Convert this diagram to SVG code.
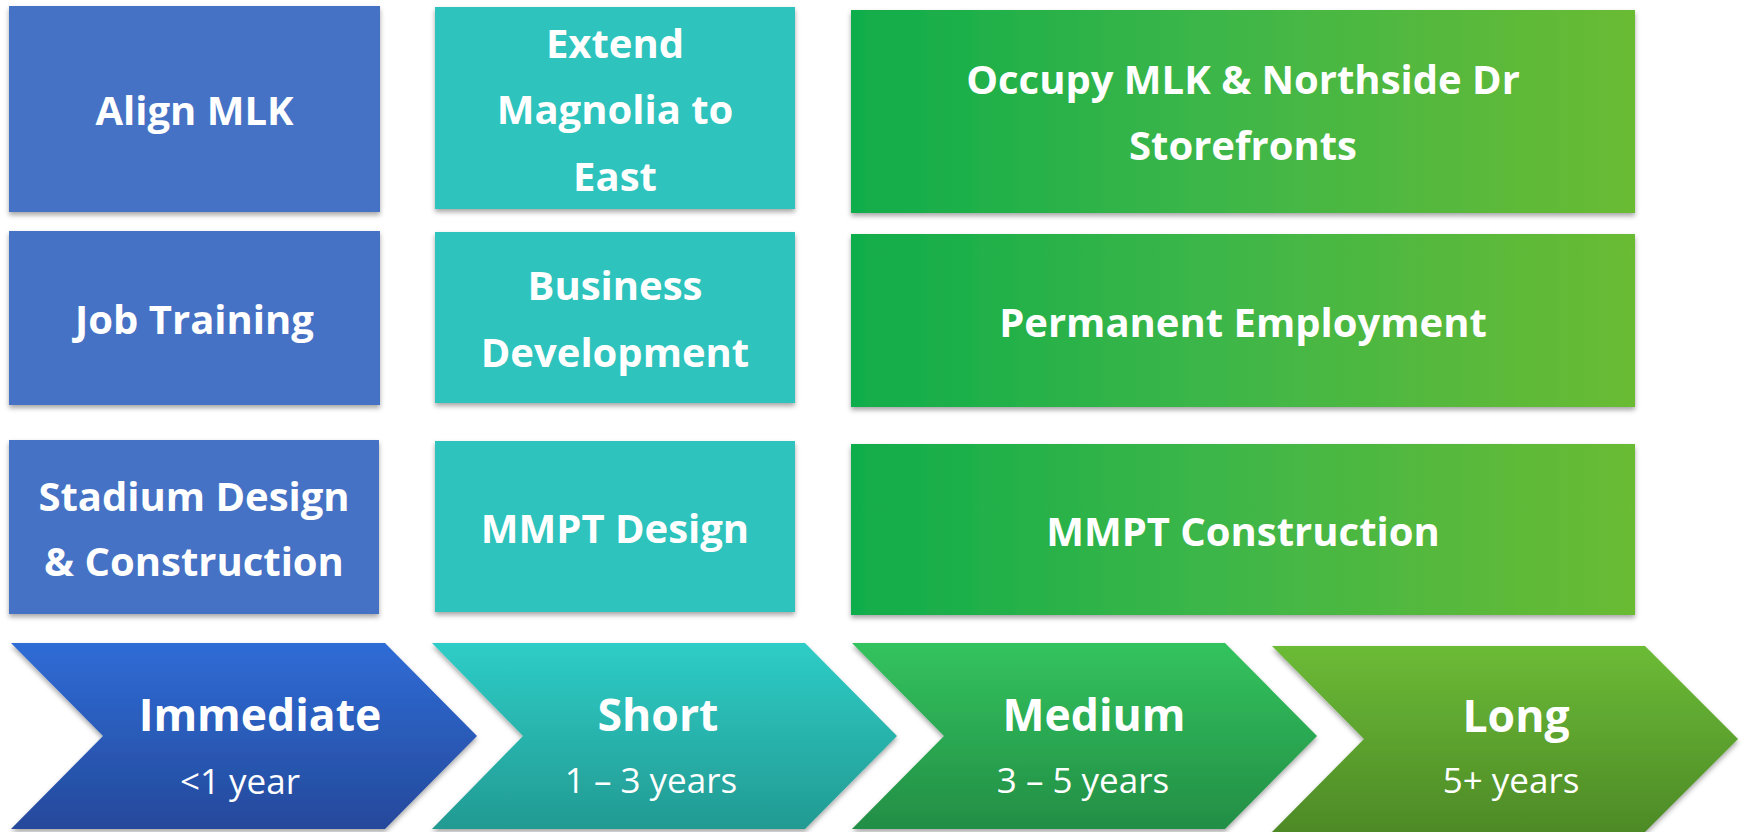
<svg xmlns="http://www.w3.org/2000/svg" width="1746" height="832" viewBox="0 0 1746 832">
  <defs>
    <filter id="shadow" x="-5%" y="-5%" width="110%" height="115%">
      <feDropShadow dx="0" dy="3" stdDeviation="2.5" flood-color="#000" flood-opacity="0.35"/>
    </filter>
    <linearGradient id="gGreenBox" x1="0" y1="0" x2="1" y2="0">
      <stop offset="0" stop-color="#10AD4B"/>
      <stop offset="0.45" stop-color="#3CB649"/>
      <stop offset="1" stop-color="#6ABB33"/>
    </linearGradient>
    <linearGradient id="gImm" x1="0" y1="0" x2="0" y2="1">
      <stop offset="0" stop-color="#2F6CD6"/>
      <stop offset="1" stop-color="#25499B"/>
    </linearGradient>
    <linearGradient id="gShort" x1="0" y1="0" x2="0" y2="1">
      <stop offset="0" stop-color="#2ECDC7"/>
      <stop offset="1" stop-color="#229A92"/>
    </linearGradient>
    <linearGradient id="gMed" x1="0" y1="0" x2="0" y2="1">
      <stop offset="0" stop-color="#33C35E"/>
      <stop offset="1" stop-color="#238E46"/>
    </linearGradient>
    <linearGradient id="gLong" x1="0" y1="0" x2="0" y2="1">
      <stop offset="0" stop-color="#6CBB36"/>
      <stop offset="1" stop-color="#4D8A27"/>
    </linearGradient>
  </defs>
  <style>
    .blue { fill: #4472C4; filter: url(#shadow); }
    .teal { fill: #2EC3BD; filter: url(#shadow); }
    .green { fill: url(#gGreenBox); filter: url(#shadow); }
    .chev { filter: url(#shadow); }
    .t { font-family: "Open Sans", "Liberation Sans", sans-serif; font-weight: bold; font-size: 40px; fill: #FFFFFF; text-anchor: middle; }
    .h { font-family: "Open Sans", "Liberation Sans", sans-serif; font-weight: bold; font-size: 44.5px; fill: #FFFFFF; text-anchor: middle; }
    .s { font-family: "Open Sans", "Liberation Sans", sans-serif; font-weight: normal; font-size: 35px; fill: #FFFFFF; text-anchor: middle; }
  </style>
  <rect width="1746" height="832" fill="#FFFFFF"/>

  <g id="align-mlk">
    <rect class="blue" x="9" y="6" width="371" height="206"/>
    <text class="t" x="194.5" y="125">Align MLK</text>
  </g>
  <g id="job-training">
    <rect class="blue" x="9" y="231" width="371" height="174"/>
    <text class="t" x="194.5" y="334">Job Training</text>
  </g>
  <g id="stadium">
    <rect class="blue" x="9" y="440" width="370" height="174"/>
    <text class="t" x="194" y="511">Stadium Design</text>
    <text class="t" x="194" y="576">&amp; Construction</text>
  </g>

  <g id="extend-magnolia">
    <rect class="teal" x="435" y="7" width="360" height="202"/>
    <text class="t" x="615" y="58">Extend</text>
    <text class="t" x="615" y="124">Magnolia to</text>
    <text class="t" x="615" y="191">East</text>
  </g>
  <g id="business-dev">
    <rect class="teal" x="435" y="232" width="360" height="171"/>
    <text class="t" x="615" y="300">Business</text>
    <text class="t" x="615" y="367">Development</text>
  </g>
  <g id="mmpt-design">
    <rect class="teal" x="435" y="441" width="360" height="171"/>
    <text class="t" x="615" y="543">MMPT Design</text>
  </g>

  <g id="occupy">
    <rect class="green" x="851" y="10" width="784" height="203"/>
    <text class="t" x="1243" y="94">Occupy MLK &amp; Northside Dr</text>
    <text class="t" x="1243" y="160">Storefronts</text>
  </g>
  <g id="permanent-employment">
    <rect class="green" x="851" y="234" width="784" height="173"/>
    <text class="t" x="1243" y="337">Permanent Employment</text>
  </g>
  <g id="mmpt-construction">
    <rect class="green" x="851" y="444" width="784" height="171"/>
    <text class="t" x="1243" y="546">MMPT Construction</text>
  </g>

  <g id="immediate">
    <polygon class="chev" fill="url(#gImm)" points="11,643 385,643 477,736 385,829 11,829 103,736"/>
    <text class="h" x="260" y="731">Immediate</text>
    <text class="s" x="240" y="794">&lt;1 year</text>
  </g>
  <g id="short">
    <polygon class="chev" fill="url(#gShort)" points="432,643 805,643 897,736 805,829 432,829 523,736"/>
    <text class="h" x="658" y="731">Short</text>
    <text class="s" x="651" y="793">1 – 3 years</text>
  </g>
  <g id="medium">
    <polygon class="chev" fill="url(#gMed)" points="852,643 1225,643 1317,736 1225,829 852,829 944,736"/>
    <text class="h" x="1094" y="731">Medium</text>
    <text class="s" x="1083" y="793">3 – 5 years</text>
  </g>
  <g id="long">
    <polygon class="chev" fill="url(#gLong)" points="1272,646 1645,646 1738,739 1645,832 1272,832 1364,739"/>
    <text class="h" x="1516" y="732">Long</text>
    <text class="s" x="1511" y="793">5+ years</text>
  </g>
</svg>
